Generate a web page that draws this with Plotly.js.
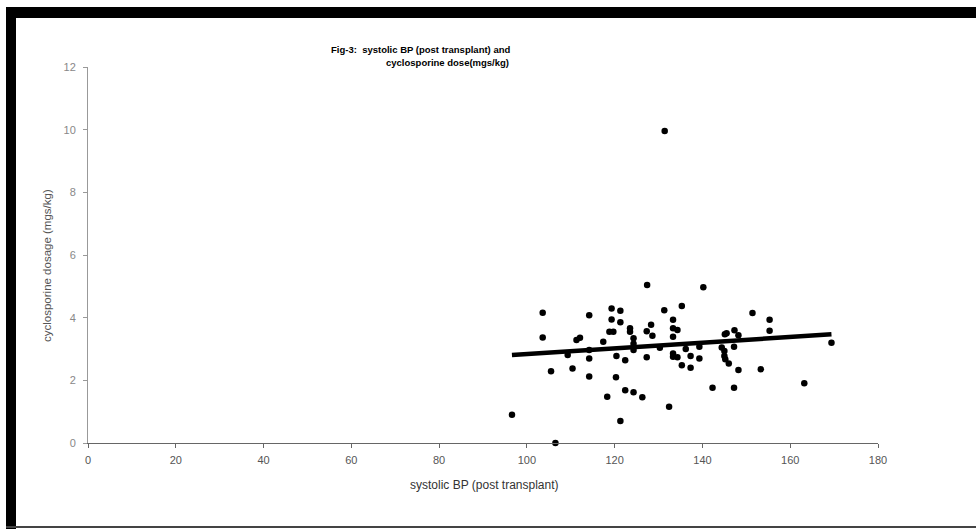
<!DOCTYPE html>
<html>
<head>
<meta charset="utf-8">
<script src="https://cdn.plot.ly/plotly-3.0.1.min.js"></script>
<style>
html,body{margin:0;padding:0;background:#fff;}
#chart{width:976px;height:529px;}
</style>
</head>
<body>
<div id="chart"></div>
<script>
// systolic BP (post transplant)
var systolicBP = [96.6,103.6,103.6,105.5,106.5,109.3,110.4,111.3,112.1,114.2,114.2,114.2,114.2,117.4,118.3,119.3,119.3,118.8,119.7,121.3,121.3,120.4,120.3,121.3,122.4,122.4,123.5,123.5,124.3,124.3,124.3,124.3,126.3,127.3,128.3,128.6,127.3,127.4,130.3,131.3,131.4,132.4,133.3,133.3,134.3,133.3,133.3,133.3,134.3,135.3,135.3,136.2,137.3,137.3,139.3,139.3,140.2,142.3,144.4,145.1,145.5,145.0,145.0,145.2,146.0,147.3,148.2,147.2,148.2,147.2,151.4,153.3,155.3,155.3,163.2,169.4];
// cyclosporine dose (mgs/kg)
var cyclosporineDose = [0.9,4.16,3.37,2.29,0.0,2.81,2.38,3.29,3.36,4.08,2.97,2.70,2.12,3.23,1.48,4.29,3.94,3.55,3.55,4.22,3.85,2.78,2.10,0.70,2.64,1.68,3.66,3.55,3.34,3.17,2.97,1.62,1.46,3.57,3.77,3.42,2.74,5.04,3.04,4.24,9.96,1.16,3.93,3.66,3.61,3.39,2.86,2.75,2.74,4.37,2.48,3.00,2.78,2.40,2.70,3.07,4.97,1.76,3.05,3.47,3.50,2.94,2.78,2.67,2.54,3.60,3.44,3.07,2.33,1.76,4.15,2.35,3.93,3.58,1.91,3.20];
// linear trend line end points
var trendX = [96.6, 169.4];
var trendY = [2.81, 3.47];
var xTicks = [0,20,40,60,80,100,120,140,160,180];
var yTicks = [0,2,4,6,8,10,12];

var font = "Liberation Sans, Arial, sans-serif";

var traces = [
  {x: trendX, y: trendY, mode: 'lines', type: 'scatter',
   line: {color: '#000', width: 4.5}, hoverinfo: 'skip', showlegend: false},
  {x: systolicBP, y: cyclosporineDose, mode: 'markers', type: 'scatter',
   marker: {color: '#000', size: 6.5, line: {width: 0}}, showlegend: false, cliponaxis: false}
];

var L = 88, R = 878, T = 67, B = 443;
function px(xp){ return (xp - L) / (R - L); }
function py(yp){ return (B - yp) / (B - T); }

var layout = {
  width: 976, height: 529,
  margin: {l: L, r: 976 - R, t: T, b: 529 - B, pad: 0},
  paper_bgcolor: '#fff', plot_bgcolor: '#fff',
  font: {family: font, color: '#777777'},
  showlegend: false,
  xaxis: {
    range: [0, 180], tickvals: xTicks, ticktext: xTicks.map(String),
    showgrid: false, zeroline: false, showline: true, linecolor: '#666666', linewidth: 1,
    ticks: 'outside', ticklen: 4, tickcolor: '#666666', ticklabelstandoff: 3,
    tickfont: {family: font, size: 11, color: '#555555'}, fixedrange: true
  },
  yaxis: {
    range: [0, 12], tickvals: yTicks, ticktext: yTicks.map(String),
    showgrid: false, zeroline: false, showline: true, linecolor: '#999999', linewidth: 1,
    ticks: 'outside', ticklen: 4, tickcolor: '#999999', ticklabelstandoff: 5,
    tickfont: {family: font, size: 11, color: '#888888'}, fixedrange: true
  },
  annotations: [
    {text: 'Fig-3:  systolic BP (post transplant) and', xref: 'paper', yref: 'paper',
     x: px(420), y: py(50), xanchor: 'center', yanchor: 'middle', showarrow: false,
     font: {family: font, size: 9.5, color: '#000', weight: 'bold'}},
    {text: 'cyclosporine dose(mgs/kg)', xref: 'paper', yref: 'paper',
     x: px(447), y: py(63), xanchor: 'center', yanchor: 'middle', showarrow: false,
     font: {family: font, size: 9.5, color: '#000', weight: 'bold'}},
    {text: 'systolic BP (post transplant)', xref: 'paper', yref: 'paper',
     x: px(484), y: py(485), xanchor: 'center', yanchor: 'middle', showarrow: false,
     font: {family: font, size: 12, color: '#333333'}},
    {text: 'cyclosporine dosage (mgs/kg)', xref: 'paper', yref: 'paper',
     x: px(47), y: py(266), xanchor: 'center', yanchor: 'middle', showarrow: false, textangle: -90,
     font: {family: font, size: 11.5, color: '#555555'}}
  ],
  shapes: [
    {type: 'rect', xref: 'paper', yref: 'paper', x0: px(6), x1: px(16), y0: py(529), y1: py(7),
     fillcolor: '#000', line: {width: 0}, layer: 'above'},
    {type: 'rect', xref: 'paper', yref: 'paper', x0: px(6), x1: px(976), y0: py(18), y1: py(7),
     fillcolor: '#000', line: {width: 0}, layer: 'above'},
    {type: 'rect', xref: 'paper', yref: 'paper', x0: px(6), x1: px(976), y0: py(528), y1: py(526),
     fillcolor: '#444', line: {width: 0}, layer: 'above'}
  ]
};

Plotly.newPlot('chart', traces, layout, {displayModeBar: false, staticPlot: true});
</script>
</body>
</html>
